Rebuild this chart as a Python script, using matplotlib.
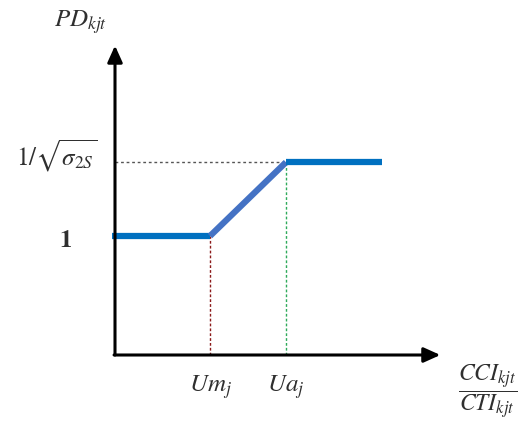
import matplotlib
matplotlib.use("Agg")
import matplotlib.pyplot as plt

plt.rcParams['mathtext.fontset'] = 'stix'

# Conceptual piecewise function
x_start = -0.06
Um = 2.0
Ua = 3.6
x_end = 5.62
low_level = 1.0
high_level = 1.62
x_axis_max = 6.85
y_axis_max = 2.6

x_labels = [r'$Um_j$', r'$Ua_j$']
y_labels = [r'$\mathbf{1}$', r'$1/\sqrt{\sigma_{2S}}$']

fig = plt.figure(figsize=(5.25, 4.3), dpi=100)
ax = fig.add_axes([0, 0, 1, 1])
ax.set_xlim(-115 / 47.5, (525 - 115) / 47.5)
ax.set_ylim(-75 / 119, (430 - 75) / 119)
ax.axis('off')

txt = '#2f2f2f'

# axes arrows
ax.annotate('', xy=(0, y_axis_max), xytext=(0, 0),
            arrowprops=dict(arrowstyle='-|>,head_length=1.0,head_width=0.45',
                            color='black', lw=2.2, shrinkA=0, shrinkB=0))
ax.annotate('', xy=(x_axis_max, 0), xytext=(-0.02, 0),
            arrowprops=dict(arrowstyle='-|>,head_length=1.0,head_width=0.45',
                            color='black', lw=2.2, shrinkA=0, shrinkB=0))

# guide lines
ax.plot([0, Ua], [high_level, high_level], color='#555555', lw=1.0,
        linestyle=(0, (2, 2)))
ax.plot([Um, Um], [0, low_level], color='#8B1A1A', lw=1.0,
        linestyle=(0, (2, 1.5)))
ax.plot([Ua, Ua], [0, high_level], color='#2EAA5A', lw=1.0,
        linestyle=(0, (2, 1.5)))

# function
ax.plot([x_start, Um], [low_level, low_level], color='#0070C0', lw=4.5,
        solid_capstyle='butt')
ax.plot([Um, Ua], [low_level, high_level], color='#4472C4', lw=4.5,
        solid_capstyle='butt')
ax.plot([Ua, x_end], [high_level, high_level], color='#0070C0', lw=4.5,
        solid_capstyle='butt')

# labels
ax.text(-0.72, 2.80, r'$PD_{kjt}$', fontsize=18, color=txt,
        ha='center', va='center')
ax.text(-1.05, low_level - 0.03, y_labels[0], fontsize=18, color=txt,
        ha='center', va='center')
ax.text(-1.22, high_level + 0.05, y_labels[1], fontsize=18, color=txt,
        ha='center', va='center')
ax.text(Um, -0.27, x_labels[0], fontsize=18, color=txt,
        ha='center', va='center')
ax.text(Ua, -0.27, x_labels[1], fontsize=18, color=txt,
        ha='center', va='center')
ax.text(7.85, -0.30, r'$\dfrac{CCI_{kjt}}{CTI_{kjt}}$', fontsize=17,
        color=txt, ha='center', va='center')

fig.savefig('out.png', dpi=100)
